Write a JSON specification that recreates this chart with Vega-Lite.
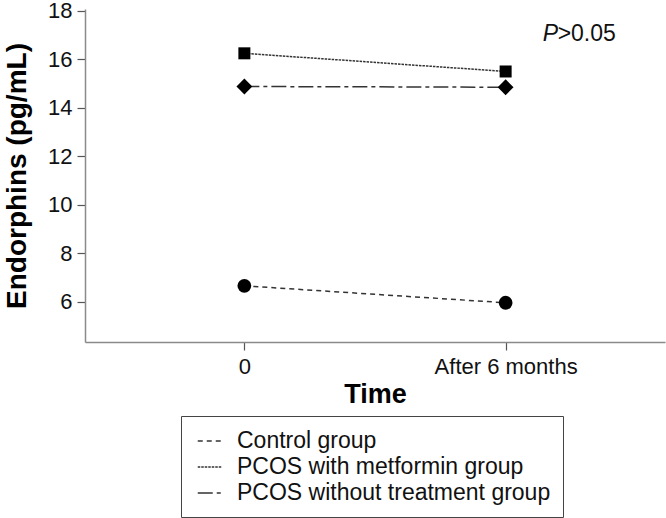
{
  "$schema": "https://vega.github.io/schema/vega-lite/v6.json",
  "width": 580,
  "height": 333,
  "autosize": {"type": "none"},
  "padding": {"left": 85, "top": 9, "right": 1, "bottom": 176},
  "background": "white",
  "config": {
    "view": {"stroke": null},
    "font": "Liberation Sans",
    "axis": {
      "grid": false,
      "domainColor": "#8a8a8a",
      "domainWidth": 1.5,
      "tickColor": "#555555",
      "tickWidth": 1.2,
      "tickSize": 8,
      "labelFont": "Liberation Sans",
      "labelFontSize": 22,
      "labelColor": "#111111",
      "titleFont": "Liberation Sans",
      "titleFontSize": 27,
      "titleFontWeight": "bold",
      "titleColor": "#000000"
    }
  },
  "datasets": {
    "main": [
      {"time": "0", "value": 6.65, "group": "Control group"},
      {"time": "After 6 months", "value": 5.95, "group": "Control group"},
      {"time": "0", "value": 16.25, "group": "PCOS with metformin group"},
      {"time": "After 6 months", "value": 15.5, "group": "PCOS with metformin group"},
      {"time": "0", "value": 14.88, "group": "PCOS without treatment group"},
      {"time": "After 6 months", "value": 14.85, "group": "PCOS without treatment group"}
    ]
  },
  "encoding": {
    "x": {
      "field": "time",
      "type": "nominal",
      "scale": {"type": "point", "padding": 0.61, "domain": ["0", "After 6 months"]},
      "axis": {"title": "Time", "labelAngle": 0, "labelPadding": 6, "titlePadding": 4}
    },
    "y": {
      "field": "value",
      "type": "quantitative",
      "scale": {"domain": [4.33, 18.08], "nice": false, "zero": false},
      "axis": {"title": "Endorphins (pg/mL)", "titleFontSize": 28, "values": [6, 8, 10, 12, 14, 16, 18], "labelPadding": 5, "titlePadding": 16}
    }
  },
  "layer": [
    {
      "data": {"name": "main"},
      "mark": {"type": "line", "color": "#333333", "strokeWidth": 1.5},
      "encoding": {
        "strokeDash": {
          "field": "group",
          "type": "nominal",
          "scale": {
            "domain": ["Control group", "PCOS with metformin group", "PCOS without treatment group"],
            "range": [[5, 4], [2.5, 1], [15, 4, 4, 4]]
          },
          "legend": {
            "title": null,
            "orient": "none",
            "legendX": 96,
            "legendY": 407,
            "direction": "vertical",
            "symbolType": "stroke",
            "symbolSize": 600,
            "symbolStrokeWidth": 1.5,
            "symbolStrokeColor": "#333333",
            "symbolOffset": 4,
            "labelFont": "Liberation Sans",
            "labelFontSize": 23,
            "labelColor": "#111111",
            "labelOffset": 14,
            "labelLimit": 500,
            "rowPadding": 1,
            "padding": 12,
            "strokeColor": "#444444",
            "fillColor": "white",
            "cornerRadius": 0
          }
        }
      }
    },
    {
      "data": {"name": "main"},
      "transform": [{"filter": "datum.group === 'Control group'"}],
      "mark": {"type": "point", "filled": true, "shape": "circle", "size": 190, "color": "#000000", "opacity": 1}
    },
    {
      "data": {"name": "main"},
      "transform": [{"filter": "datum.group === 'PCOS with metformin group'"}],
      "mark": {"type": "point", "filled": true, "shape": "square", "size": 144, "color": "#000000", "opacity": 1}
    },
    {
      "data": {"name": "main"},
      "transform": [{"filter": "datum.group === 'PCOS without treatment group'"}],
      "mark": {"type": "point", "filled": true, "shape": "diamond", "size": 250, "color": "#000000", "opacity": 1}
    },
    {
      "data": {"values": [{"time": "After 6 months", "value": 17.05, "label": "P"}]},
      "mark": {"type": "text", "fontStyle": "italic", "fontSize": 23, "align": "left", "baseline": "middle", "dx": 37, "color": "#111111", "font": "Liberation Sans"},
      "encoding": {"text": {"field": "label"}}
    },
    {
      "data": {"values": [{"time": "After 6 months", "value": 17.05, "label": ">0.05"}]},
      "mark": {"type": "text", "fontSize": 23, "align": "left", "baseline": "middle", "dx": 52, "color": "#111111", "font": "Liberation Sans"},
      "encoding": {"text": {"field": "label"}}
    }
  ]
}
